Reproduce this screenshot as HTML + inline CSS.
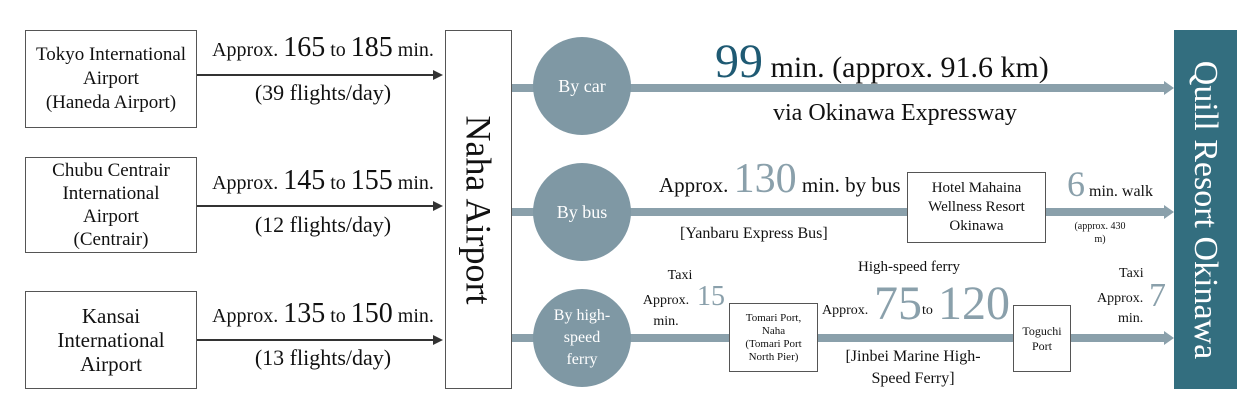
<!DOCTYPE html>
<html><head><meta charset="utf-8"><style>
body{margin:0;width:1253px;height:406px;background:#fff;position:relative;overflow:hidden;font-family:"Liberation Serif",serif;color:#111}
.a{position:absolute;white-space:nowrap}
.box{position:absolute;border:1px solid #555;background:#fff;display:flex;align-items:center;justify-content:center;text-align:center;box-sizing:border-box}
.line{position:absolute;background:#8aa0ab;height:8px}
.arrow{position:absolute;width:0;height:0;border-left:10px solid #8aa0ab;border-top:7px solid transparent;border-bottom:7px solid transparent}
.circ{position:absolute;width:98px;height:98px;border-radius:50%;background:#7f98a4;color:#fff;display:flex;align-items:center;justify-content:center;text-align:center;font-size:18px;line-height:22px}
.bl{position:absolute;height:2px;background:#333}
.bh{position:absolute;width:0;height:0;border-left:10px solid #333;border-top:5px solid transparent;border-bottom:5px solid transparent}
.n{color:#8aa0ab}
.c{text-align:center}
</style></head><body>
<div class="box" style="left:25px;top:30px;width:172px;height:98px;font-size:19px;line-height:24px">Tokyo International<br>Airport<br>(Haneda Airport)</div>
<div class="box" style="left:25px;top:157px;width:172px;height:96px;font-size:19px;line-height:23px">Chubu Centrair<br>International<br>Airport<br>(Centrair)</div>
<div class="box" style="left:25px;top:291px;width:172px;height:98px;font-size:21px;line-height:24px">Kansai<br>International<br>Airport</div>

<div class="bl" style="left:197px;top:74px;width:236px"></div><div class="bh" style="left:433px;top:70px"></div>
<div class="bl" style="left:197px;top:205px;width:236px"></div><div class="bh" style="left:433px;top:201px"></div>
<div class="bl" style="left:197px;top:339px;width:236px"></div><div class="bh" style="left:433px;top:335px"></div>

<div class="a c" style="left:197px;top:32px;width:252px;font-size:20px">Approx. <span style="font-size:28px">165</span> to <span style="font-size:28px">185</span> min.</div>
<div class="a c" style="left:197px;top:80px;width:252px;font-size:22px">(39 flights/day)</div>
<div class="a c" style="left:197px;top:165px;width:252px;font-size:20px">Approx. <span style="font-size:28px">145</span> to <span style="font-size:28px">155</span> min.</div>
<div class="a c" style="left:197px;top:212px;width:252px;font-size:22px">(12 flights/day)</div>
<div class="a c" style="left:197px;top:298px;width:252px;font-size:20px">Approx. <span style="font-size:28px">135</span> to <span style="font-size:28px">150</span> min.</div>
<div class="a c" style="left:197px;top:345px;width:252px;font-size:22px">(13 flights/day)</div>

<div class="box" style="left:445px;top:30px;width:67px;height:359px"><div style="transform:rotate(90deg);white-space:nowrap;font-size:36px">Naha Airport</div></div>

<div class="line" style="left:512px;top:84px;width:652px"></div><div class="arrow" style="left:1164px;top:81px"></div>
<div class="line" style="left:512px;top:208px;width:652px"></div><div class="arrow" style="left:1164px;top:205px"></div>
<div class="line" style="left:512px;top:334px;width:652px"></div><div class="arrow" style="left:1164px;top:331px"></div>

<div class="circ" style="left:533px;top:37px">By car</div>
<div class="circ" style="left:533px;top:163px">By bus</div>
<div class="circ" style="left:533px;top:289px;font-size:16px">By high-<br>speed<br>ferry</div>

<div class="a" style="left:715px;top:34px;font-size:30px"><span style="font-size:48px;color:#1f5a73">99</span> min. (approx. 91.6 km)</div>
<div class="a" style="left:773px;top:100px;font-size:24px">via Okinawa Expressway</div>

<div class="a" style="left:659px;top:155px;font-size:21px">Approx. <span class="n" style="font-size:42px">130</span> min. by bus</div>
<div class="a" style="left:680px;top:225px;font-size:16px">[Yanbaru Express Bus]</div>
<div class="box" style="left:907px;top:172px;width:139px;height:71px;font-size:15px;line-height:19px">Hotel Mahaina<br>Wellness Resort<br>Okinawa</div>
<div class="a" style="left:1067px;top:163px;font-size:16px"><span class="n" style="font-size:36px">6</span> min. walk</div>
<div class="a c" style="left:1070px;top:220px;width:60px;font-size:10px;line-height:13px">(approx. 430<br>m)</div>

<div class="a c" style="left:660px;top:268px;width:40px;font-size:14px">Taxi</div>
<div class="a c" style="left:636px;top:290px;width:60px;font-size:14px;line-height:21px">Approx.<br>min.</div>
<div class="a n" style="left:697px;top:281px;font-size:28px">15</div>
<div class="box" style="left:729px;top:303px;width:89px;height:69px;font-size:11px;line-height:13px">Tomari Port,<br>Naha<br>(Tomari Port<br>North Pier)</div>
<div class="a" style="left:858px;top:259px;font-size:15px">High-speed ferry</div>
<div class="a" style="left:822px;top:303px;font-size:14px">Approx.</div>
<div class="a n" style="left:874px;top:276px;font-size:48px">75</div>
<div class="a" style="left:922px;top:303px;font-size:14px">to</div>
<div class="a n" style="left:938px;top:276px;font-size:48px">120</div>
<div class="a c" style="left:828px;top:346px;width:170px;font-size:16px;line-height:22px">[Jinbei Marine High-<br>Speed Ferry]</div>
<div class="box" style="left:1013px;top:305px;width:58px;height:67px;font-size:12px;line-height:15px">Toguchi<br>Port</div>
<div class="a" style="left:1119px;top:266px;font-size:14px">Taxi</div>
<div class="a" style="left:1097px;top:291px;font-size:14px">Approx.</div>
<div class="a" style="left:1118px;top:311px;font-size:14px">min.</div>
<div class="a n" style="left:1149px;top:277px;font-size:34px">7</div>

<div class="a" style="left:1174px;top:30px;width:63px;height:359px;background:#336e7f;display:flex;align-items:center;justify-content:center"><div style="transform:rotate(90deg);white-space:nowrap;color:#fff;font-size:34px">Quill Resort Okinawa</div></div>
</body></html>
